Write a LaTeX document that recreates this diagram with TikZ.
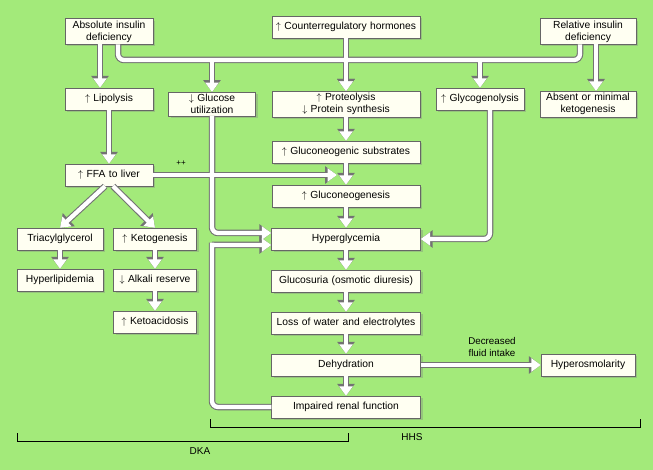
\documentclass[tikz,border=0pt]{standalone}
\usepackage{fontspec}
\setmainfont{Liberation Sans}
\usetikzlibrary{arrows.meta,shadows}

\definecolor{bggreen}{RGB}{163,234,122}
\definecolor{boxfill}{RGB}{255,255,242}

\tikzset{
  box/.style={draw=black!60, fill=boxfill, font=\fontsize{10.3}{12}\selectfont,
    align=center, inner sep=2pt, minimum height=22pt,
    drop shadow={shadow xshift=2pt, shadow yshift=-2pt, opacity=0.35}},
  outer/.style={line width=6.5pt, draw=black!55, -{Triangle[length=12pt,width=17pt]}},
  inner/.style={line width=4.3pt, draw=white, -{Triangle[length=9.5pt,width=13pt]}},
}

% all connectors, drawn once as outline and once as fill
\newcommand\pipepaths[1]{
  \draw[#1] ([xshift=-9pt]absd.south) -- ([xshift=-9pt]lipo.north);
  \draw[#1,-,rounded corners=6pt] (absd.south -| busL) |- (busR) -- (reld.south -| busR);
  \draw[#1] (gluu.north |- busL) -- (gluu.north);
  \draw[#1] (prot.north |- busL) -- (prot.north);
  \draw[#1] (glyc.north |- busL) -- (glyc.north);
  \draw[#1] (coun) -- (prot);
  \draw[#1] ([xshift=8pt]reld.south) -- ([xshift=8pt]absk.north);
  \draw[#1] (lipo) -- (ffa);
  \draw[#1] (ffa.east) -- (ffaend);
  \draw[#1] ([xshift=-4pt]ffa.south) -- (tria.north);
  \draw[#1] ([xshift=4pt]ffa.south) -- (keto.north);
  \draw[#1,rounded corners=6pt] (gluu.south) |- ([yshift=6pt]hyper.west);
  \draw[#1] (prot) -- (gsub);
  \draw[#1] (gsub) -- (gneo);
  \draw[#1] (gneo) -- (hyper);
  \draw[#1,rounded corners=6pt] ([xshift=10pt]glyc.south) |- (hyper.east);
  \draw[#1] (tria) -- (hypl);
  \draw[#1] (keto) -- (alka);
  \draw[#1] (alka) -- (keta);
  \draw[#1] (hyper) -- (glcs);
  \draw[#1] (glcs) -- (loss);
  \draw[#1] (loss) -- (dehy);
  \draw[#1] (dehy) -- (renal);
  \draw[#1] (dehy) -- (hyos);
  \draw[#1,rounded corners=6pt] (renal.west) -| (gluu.south |- hyper.west) [sharp corners] -- ([yshift=-6pt]hyper.west -| gluu.south) -- ([yshift=-6pt]hyper.west);
}

\begin{document}
\begin{tikzpicture}[x=1pt,y=-1pt]

  % background
  \fill[bggreen] (0,0) rectangle (653,470);
  \useasboundingbox (0,0) rectangle (653,470);

  % top row
  \node[box, text width=84pt] (absd) at (109,31.5) {Absolute insulin\\deficiency};
  \node[box, text width=144pt] (coun) at (346,27) {$\uparrow$ Counterregulatory hormones};
  \node[box, text width=92pt] (reld) at (588,31.5) {Relative insulin\\deficiency};

  % second row
  \node[box, text width=84pt] (lipo) at (109,99) {$\uparrow$ Lipolysis};
  \node[box, text width=83pt] (gluu) at (212,104) {$\downarrow$ Glucose\\utilization};
  \node[box, text width=144pt] (prot) at (346,104) {$\uparrow$ Proteolysis\\$\downarrow$ Protein synthesis};
  \node[box, text width=84pt] (glyc) at (480,99) {$\uparrow$ Glycogenolysis};
  \node[box, text width=92pt] (absk) at (588,104) {Absent or minimal\\ketogenesis};

  % middle
  \node[box, text width=144pt] (gsub) at (346,152) {$\uparrow$ Gluconeogenic substrates};
  \node[box, text width=84pt] (ffa) at (109,175) {$\uparrow$ FFA to liver};
  \node[box, text width=144pt] (gneo) at (346,196) {$\uparrow$ Gluconeogenesis};
  \node[box, text width=145pt] (hyper) at (346,239) {Hyperglycemia};

  % DKA branch
  \node[box, text width=82pt] (tria) at (60,239) {Triacylglycerol};
  \node[box, text width=79pt] (keto) at (155,239) {$\uparrow$ Ketogenesis};
  \node[box, text width=82pt] (hypl) at (60,280) {Hyperlipidemia};
  \node[box, text width=79pt] (alka) at (155,280) {$\downarrow$ Alkali reserve};
  \node[box, text width=79pt] (keta) at (155,322) {$\uparrow$ Ketoacidosis};

  % HHS chain
  \node[box, text width=145pt] (glcs) at (346,281) {Glucosuria (osmotic diuresis)};
  \node[box, text width=145pt] (loss) at (346,323) {Loss of water and electrolytes};
  \node[box, text width=145pt] (dehy) at (346,365) {Dehydration};
  \node[box, text width=145pt] (renal) at (346,407) {Impaired renal function};
  \node[box, text width=90pt] (hyos) at (588,365) {Hyperosmolarity};

  \coordinate (busL) at (118,60);
  \coordinate (busR) at (580,60);
  \coordinate (ffaend) at (337,175);

  \pipepaths{outer}
  \pipepaths{inner}

  % labels
  \node[font=\fontsize{8}{9}\selectfont] (pp) at (181,163) {++};
  \node[font=\fontsize{9.8}{12}\selectfont, align=center] (dfi) at (492,347) {Decreased\\fluid intake};

  % DKA / HHS brackets
  \draw[thick] (17,433) -- (17,441) -- (348,441) -- (348,433);
  \draw[thick] (210,419) -- (210,427) -- (640,427) -- (640,419);
  \node[font=\fontsize{10}{12}\selectfont] (dka) at (200,451) {DKA};
  \node[font=\fontsize{10}{12}\selectfont] (hhs) at (412,437) {HHS};

\end{tikzpicture}
\end{document}
